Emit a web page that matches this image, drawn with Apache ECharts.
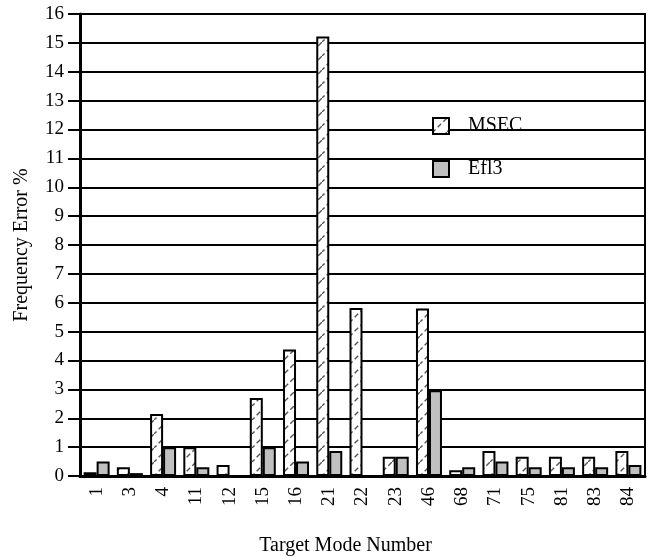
<!DOCTYPE html>
<html>
<head>
<meta charset="utf-8">
<script src="https://cdn.jsdelivr.net/npm/echarts@6/dist/echarts.min.js"></script>
<style>
html,body{margin:0;padding:0;background:#fff;}
#chart{width:654px;height:557px;}
</style>
</head>
<body>
<div id="chart"></div>
<script>
const categories = ['1','3','4','11','12','15','16','21','22','23','46','68','71','75','81','83','84'];
const msecValues = [0.13,0.3,2.15,1.0,0.38,2.7,4.38,15.22,5.82,0.67,5.8,0.2,0.87,0.67,0.67,0.67,0.87];
const efl3Values = [0.5,0.1,1.0,0.3,0,1.0,0.5,0.87,0,0.67,2.97,0.3,0.5,0.3,0.3,0.3,0.38];
const yTicks = [0,1,2,3,4,5,6,7,8,9,10,11,12,13,14,15,16];

function hatch() {
  const c = document.createElement('canvas');
  c.width = 14; c.height = 14;
  const g = c.getContext('2d');
  g.fillStyle = '#fff';
  g.fillRect(0, 0, 14, 14);
  g.strokeStyle = '#555';
  g.lineWidth = 1.4;
  g.setLineDash([5, 3]);
  g.beginPath();
  g.moveTo(-1, 15); g.lineTo(15, -1);
  g.stroke();
  return c;
}

const FONT = 'Liberation Serif';
const chart = echarts.init(document.getElementById('chart'));
chart.setOption({
  animation: false,
  backgroundColor: '#fff',
  textStyle: { fontFamily: FONT, color: '#000' },
  grid: { left: 80, right: 9, top: 14, bottom: 81, containLabel: false, outerBoundsMode: 'none',
    show: true, borderColor: '#000', borderWidth: 2, backgroundColor: 'transparent' },
  legend: {
    orient: 'vertical',
    left: 432, top: 116, padding: 0,
    icon: 'rect',
    itemWidth: 16, itemHeight: 16, itemGap: 23,
    textStyle: { fontFamily: FONT, fontSize: 20, color: '#000', padding: [0, 0, 0, 14] },
    data: ['MSEC', 'Efl3']
  },
  xAxis: {
    type: 'category',
    data: categories,
    boundaryGap: true,
    name: 'Target Mode Number',
    nameLocation: 'middle',
    nameGap: 60,
    nameTextStyle: { fontFamily: FONT, fontSize: 20, color: '#000', padding: [0, 34, 0, 0] },
    axisLine: { lineStyle: { color: '#000', width: 3 } },
    axisTick: { alignWithLabel: true, length: 11, lineStyle: { color: '#000', width: 2 } },
    axisLabel: { rotate: 90, margin: 11, fontFamily: FONT, fontSize: 19, color: '#000', interval: 0 }
  },
  yAxis: {
    type: 'value',
    min: 0, max: 16, interval: 1,
    name: 'Frequency Error %',
    nameLocation: 'middle',
    nameGap: 48,
    nameTextStyle: { fontFamily: FONT, fontSize: 20, color: '#000' },
    axisLine: { show: true, lineStyle: { color: '#000', width: 3 } },
    axisTick: { show: true, length: 12, lineStyle: { color: '#000', width: 2 } },
    axisLabel: { margin: 16, fontFamily: FONT, fontSize: 19, color: '#000',
      formatter: v => yTicks.includes(v) ? String(v) : '' },
    splitLine: { show: true, lineStyle: { color: '#000', width: 2 } }
  },
  series: [
    {
      name: 'MSEC', type: 'bar', data: msecValues,
      barWidth: 13, barGap: '0%',
      itemStyle: { color: { image: hatch(), repeat: 'repeat' }, borderColor: '#000', borderWidth: 2 }
    },
    {
      name: 'Efl3', type: 'bar', data: efl3Values,
      barWidth: 13,
      itemStyle: { color: '#c0c0c0', borderColor: '#000', borderWidth: 2 }
    }
  ]
});
</script>
</body>
</html>
